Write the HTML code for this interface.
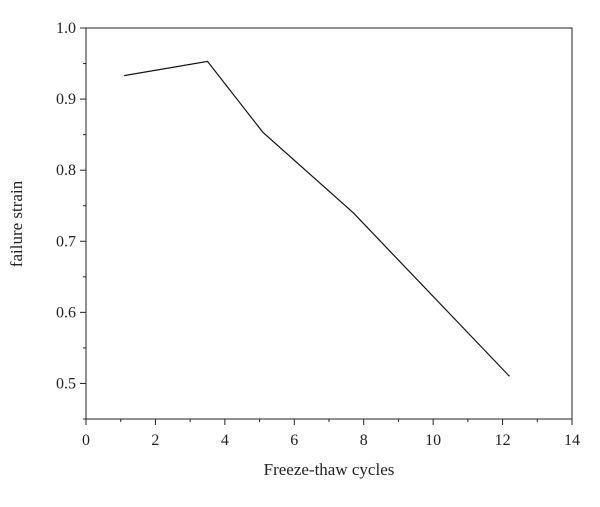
<!DOCTYPE html>
<html><head><meta charset="utf-8"><style>
body{margin:0;background:#fff;}
svg text{font-family:"Liberation Serif",serif;fill:#222;}
</style></head><body>
<svg width="600" height="502" id="c">
<rect x="86" y="28" width="486" height="391" fill="none" stroke="#222" stroke-width="1"/>
<g id="ax"></g>
<text x="329" y="475" font-size="17" text-anchor="middle">Freeze-thaw cycles</text>
<text transform="translate(22,224) rotate(-90)" font-size="17" text-anchor="middle">failure strain</text>
</svg>
<script>
const xs=[1.1,3.5,5.1,7.7,12.2];
const ys=[0.933,0.953,0.853,0.74,0.51];
const xTicks=[0,2,4,6,8,10,12,14];
const yTicks=["0.5","0.6","0.7","0.8","0.9","1.0"];
const L=86,R=572,T=28,B=419;
const X=v=>L+(v-0)/14*(R-L);
const Y=v=>B-(v-0.45)/0.55*(B-T);
const ns="http://www.w3.org/2000/svg";
const g=document.getElementById('ax');
function mk(t,a){const e=document.createElementNS(ns,t);for(const k in a)e.setAttribute(k,a[k]);g.appendChild(e);return e;}
for(let v=0;v<=14;v+=1){const x=X(v);const l=mk('line',{x1:x,x2:x,y1:B,y2:B+(v%2?3:6),stroke:'#222'});

}
xTicks.forEach(v=>{const t=mk('text',{x:X(v),y:B+26,'font-size':16,'text-anchor':'middle'});t.textContent=v;

});
for(let i=0;i<=11;i++){const v=0.45+i*0.05;const y=Y(v);const l=mk('line',{x1:L,x2:L-(i%2?6:3),y1:y,y2:y,stroke:'#222'});

}
yTicks.forEach(s=>{const t=mk('text',{x:L-10,y:Y(parseFloat(s))+5,'font-size':16,'text-anchor':'end'});t.textContent=s;

});
const p=mk('polyline',{points:xs.map((x,i)=>X(x)+','+Y(ys[i])).join(' '),fill:'none',stroke:'#111','stroke-width':1.2});


</script>
</body></html>
